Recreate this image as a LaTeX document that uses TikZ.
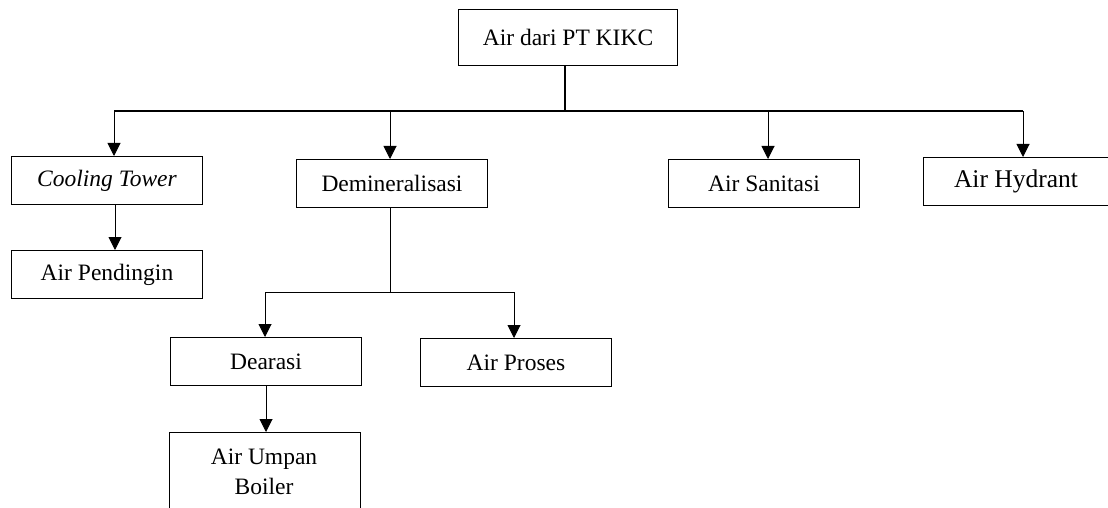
\documentclass[tikz,border=0pt]{standalone}
\usepackage{fontspec}
\setmainfont{Liberation Serif}
\usetikzlibrary{arrows.meta}
\begin{document}
\begin{tikzpicture}[x=1pt,y=-1pt,
  box/.style={draw, line width=1pt, minimum width=191pt, minimum height=48pt, inner sep=0pt, font=\fontsize{23.5}{28}\selectfont, anchor=north west},
  arr/.style={line width=1pt, -{Triangle[width=13pt,length=13pt]}},
  line/.style={line width=1pt},
  bus/.style={line width=2pt}]
\useasboundingbox (0,0) rectangle (1108,508);
\clip (0,0) rectangle (1108,508);
\node[box, minimum width=219pt, minimum height=56pt] (top) at (458,9) {Air dari PT KIKC};
\node[box] (ct) at (11,156) {\itshape Cooling Tower};
\node[box] (ap) at (11,250) {Air Pendingin};
\node[box] (dm) at (296,159) {Demineralisasi};
\node[box] (sa) at (668,159) {Air Sanitasi};
\node[box, minimum width=185pt, font=\fontsize{25.5}{30}\selectfont] (hy) at (923,157) {Air Hydrant};
\node[box] (de) at (170,337) {Dearasi};
\node[box] (pr) at (420,338) {Air Proses};
\node[box, minimum height=100pt] (ub) at (169,432) {};
\node[font=\fontsize{23.5}{30}\selectfont, align=center] (ubt) at (264,472) {Air Umpan\\Boiler};
\coordinate (bj) at (565,111);
\coordinate (bl) at (114,111);
\coordinate (br) at (1023,111);
\draw[bus] (top.south -| bj) -- (bj);
\draw[bus] (bl) -- (br);
\draw[arr] (bl) -- (ct.north -| bl);
\draw[arr] (390,111) -- (dm.north -| 390,0);
\draw[arr] (768,111) -- (sa.north -| 768,0);
\draw[arr] (br) -- (hy.north -| br);
\draw[arr] (ct.south -| 115,0) -- (ap.north -| 115,0);
\coordinate (dj) at (390,292);
\coordinate (dl) at (265,292);
\coordinate (dr) at (514,292);
\draw[line] (dm.south -| dj) -- (dj);
\draw[line] (dl) -- (dr);
\draw[arr] (dl) -- (de.north -| dl);
\draw[arr] (dr) -- (pr.north -| dr);
\draw[arr] (de.south -| 266,0) -- (ub.north -| 266,0);
\end{tikzpicture}
\end{document}
